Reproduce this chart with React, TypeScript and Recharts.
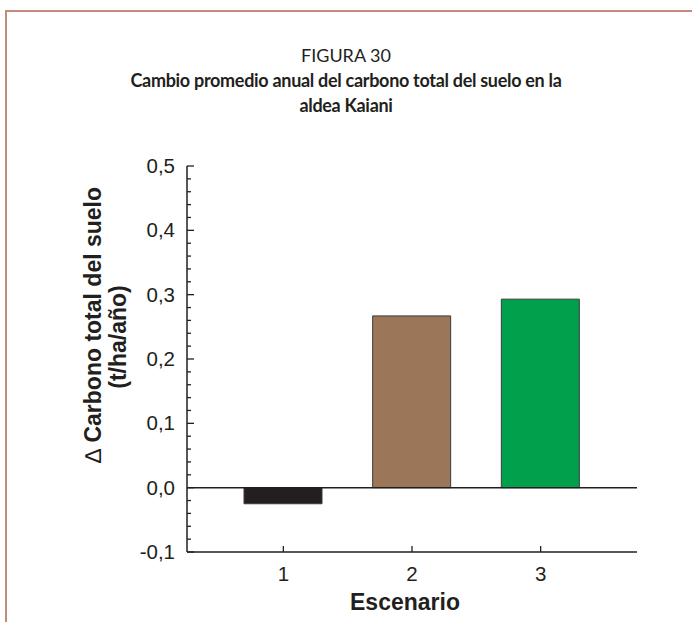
import { Bar, BarChart, Cell, Label, ReferenceLine, XAxis, YAxis } from "recharts";

const scenarios = ["1", "2", "3"];
const carbonChange = [-0.025, 0.267, 0.293];
const barColors = ["#231f20", "#9b7659", "#00a04c"];
const yTicks = [
  -0.1, -0.08, -0.06, -0.04, -0.02, 0, 0.02, 0.04, 0.06, 0.08, 0.1, 0.12, 0.14, 0.16, 0.18, 0.2,
  0.22, 0.24, 0.26, 0.28, 0.3, 0.32, 0.34, 0.36, 0.38, 0.4, 0.42, 0.44, 0.46, 0.48, 0.5,
];

const data = scenarios.map((name, i) => ({ name, value: carbonChange[i] }));

const AXIS = "#231f20";
const FONT = "'Liberation Sans', Arial, sans-serif";

const isMajor = (v: number) => Math.abs(v * 10 - Math.round(v * 10)) < 1e-6;
const fmt = (v: number) => v.toFixed(1).replace(".", ",");

function LeftTick(props: any) {
  const { x, y, payload } = props;
  const major = isMajor(payload.value);
  return (
    <g>
      <line x1={x} x2={x + (major ? 7 : 4)} y1={y} y2={y} stroke={AXIS} strokeWidth={1.3} />
      {major && (
        <text x={x - 12} y={y} dy={7} textAnchor="end" fontSize={20.5} fontFamily={FONT} fill={AXIS}>
          {fmt(payload.value)}
        </text>
      )}
    </g>
  );
}

function RightTick(props: any) {
  const { x, y, payload } = props;
  const major = isMajor(payload.value);
  return <line x1={x} x2={x - (major ? 7 : 4)} y1={y} y2={y} stroke={AXIS} strokeWidth={1.3} />;
}

function BottomTick(props: any) {
  const { x, y, payload } = props;
  return (
    <g>
      <line x1={x} x2={x} y1={y} y2={y - 6} stroke={AXIS} strokeWidth={1.3} />
      <text x={x} y={y + 29} textAnchor="middle" fontSize={20.5} fontFamily={FONT} fill={AXIS}>
        {payload.value}
      </text>
    </g>
  );
}

function YTitle(props: any) {
  const { x, y, width, height } = props.viewBox;
  const mid = y + height / 2;
  const x1 = x + width - 94;
  const x2 = x + width - 69;
  const cy1 = mid - 34;
  const cy2 = mid - 22;
  return (
    <g fontFamily={FONT} fontSize={23} fontWeight="bold" fill={AXIS}>
      <text x={x1} y={cy1} transform={`rotate(-90 ${x1} ${cy1})`} textAnchor="middle" dominantBaseline="central">
        <tspan fontWeight="normal">∆</tspan> Carbono total del suelo
      </text>
      <text x={x2} y={cy2} transform={`rotate(-90 ${x2} ${cy2})`} textAnchor="middle" dominantBaseline="central">
        (t/ha/año)
      </text>
    </g>
  );
}

function XTitle(props: any) {
  const { x, y, width } = props.viewBox;
  return (
    <text x={x + width / 2 - 7} y={y + 58} textAnchor="middle" fontFamily={FONT} fontSize={23} fontWeight="bold" fill={AXIS}>
      Escenario
    </text>
  );
}

export default function App() {
  return (
    <div style={{ position: "absolute", left: 0, top: 0, width: 692, height: 622, background: "#fff", overflow: "hidden" }}>
      <div
        style={{
          position: "absolute",
          left: 5,
          top: 10,
          right: 0,
          bottom: 0,
          borderTop: "2px solid #c58a7b",
          borderLeft: "2px solid #c58a7b",
        }}
      />
      <div
        style={{
          position: "absolute",
          top: 43,
          left: 0,
          width: 692,
          textAlign: "center",
          fontFamily: "Lato, 'Open Sans', sans-serif",
          color: "#231f20",
          fontSize: 18,
          lineHeight: "25px",
        }}
      >
        <div>FIGURA 30</div>
        <div style={{ fontWeight: "bold", letterSpacing: "-0.3px" }}>
          Cambio promedio anual del carbono total del suelo en la
          <br />
          aldea Kaiani
        </div>
      </div>
      <div style={{ position: "absolute", left: 0, top: 0 }}>
        <BarChart width={692} height={622} data={data} margin={{ top: 166, right: 55, bottom: 0, left: 127 }}>
          <XAxis
            dataKey="name"
            padding={{ left: 32, right: 32 }}
            height={70}
            tickSize={0}
            tickMargin={0}
            tickLine={false}
            axisLine={{ stroke: AXIS, strokeWidth: 1.5 }}
            tick={<BottomTick />}
          >
            <Label content={<XTitle />} />
          </XAxis>
          <XAxis
            xAxisId="top"
            orientation="top"
            dataKey="name"
            padding={{ left: 32, right: 32 }}
            height={0}
            tick={false}
            tickLine={false}
            axisLine={{ stroke: AXIS, strokeWidth: 1.5 }}
          />
          <YAxis
            type="number"
            domain={[-0.1, 0.5]}
            ticks={yTicks}
            interval={0}
            width={60}
            tickSize={0}
            tickMargin={0}
            tickLine={false}
            axisLine={{ stroke: AXIS, strokeWidth: 1.5 }}
            tick={<LeftTick />}
          >
            <Label content={<YTitle />} />
          </YAxis>
          <YAxis
            yAxisId="right"
            orientation="right"
            type="number"
            domain={[-0.1, 0.5]}
            ticks={yTicks}
            interval={0}
            width={0}
            tickSize={0}
            tickMargin={0}
            tickLine={false}
            axisLine={{ stroke: AXIS, strokeWidth: 1.5 }}
            tick={<RightTick />}
          />
          <Bar dataKey="value" barSize={78} stroke="#3a3a3a" strokeWidth={1} isAnimationActive={false}>
            {data.map((_, i) => (
              <Cell key={i} fill={barColors[i]} />
            ))}
          </Bar>
          <ReferenceLine y={0} stroke={AXIS} strokeWidth={1.5} />
        </BarChart>
      </div>
    </div>
  );
}
